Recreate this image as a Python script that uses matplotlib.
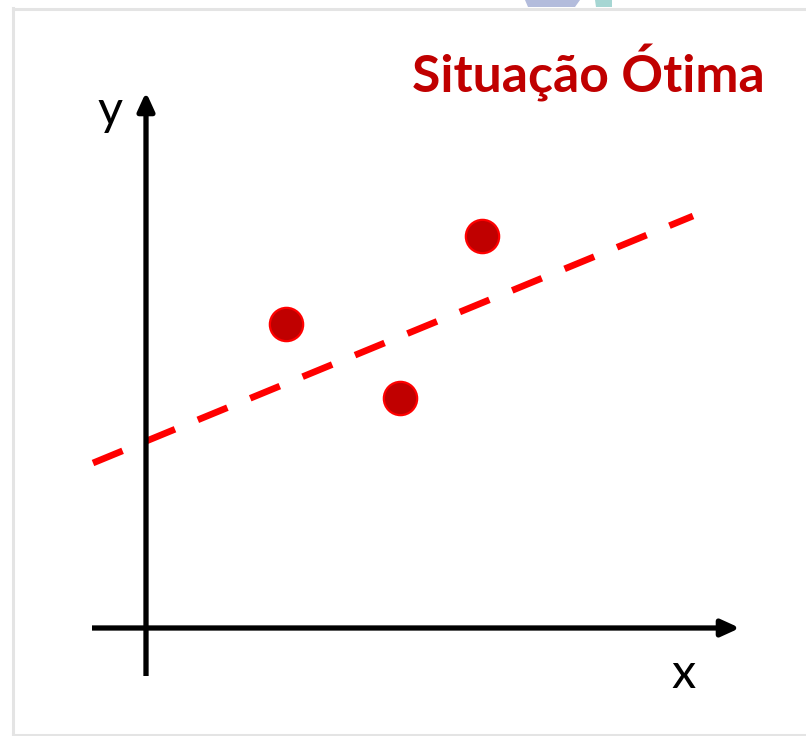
import matplotlib
matplotlib.use("Agg")
import matplotlib.pyplot as plt
from matplotlib.patches import Polygon
from matplotlib.lines import Line2D

# sample observations
pts_x = [1.40, 2.54, 3.36]
pts_y = [3.04, 2.30, 3.92]

# fitted line end points
fit_x = [-0.53, 5.47]
fit_y = [1.65, 4.12]

# extent of the drawn axes (arrow tips at the positive ends)
xaxis_span = [-0.54, 5.94]
yaxis_span = [-0.48, 5.36]

title = "Situação Ótima"
dark_red = "#C00000"
bright_red = "#FF0000"

W, H = 806, 736
fig = plt.figure(figsize=(W / 100, H / 100), dpi=100)
ax = fig.add_axes([0, 0, 1, 1])
ax.set_xlim(-1.46, 6.60)
ax.set_ylim(-1.08, 6.28)
ax.axis("off")

# axes with arrow heads
arrow = dict(arrowstyle="-|>,head_length=1.1,head_width=0.5",
             color="black", lw=3.8, shrinkA=0, shrinkB=0,
             capstyle="butt")
ax.annotate("", xy=(xaxis_span[1], 0), xytext=(xaxis_span[0], 0),
            arrowprops=arrow)
ax.annotate("", xy=(0, yaxis_span[1]), xytext=(0, yaxis_span[0]),
            arrowprops=arrow)

# dashed regression line
ax.plot(fit_x, fit_y, color=bright_red, lw=4.8, dashes=(4.8, 3.7),
        solid_capstyle="butt", dash_capstyle="butt")

# data points
ax.plot(pts_x, pts_y, "o", ms=24, mfc=dark_red, mec=bright_red, mew=1.6,
        zorder=5)

font = "Lato"
ax.text(-0.36, 5.03, "y", fontsize=35, family=font, ha="center",
        va="baseline")
ax.text(5.38, -0.60, "x", fontsize=35, family=font, ha="center",
        va="baseline")

fig.text(765 / W, 1 - 92 / H, title, fontsize=37.2, family=font,
         weight="bold", color=dark_red, ha="right", va="baseline")

# light frame around the slide
frame = "#E4E4E4"
fig.add_artist(Line2D([13 / W, 1], [1 - 8.5 / H, 1 - 8.5 / H],
                      color=frame, lw=2.2))
fig.add_artist(Line2D([13.5 / W, 13.5 / W], [1 - 8 / H, 1 - 734.5 / H],
                      color=frame, lw=2.2))
fig.add_artist(Line2D([13 / W, 1], [1 - 734.5 / H, 1 - 734.5 / H],
                      color=frame, lw=2.2))

# bits of a logo peeking in at the top edge
fig.add_artist(Polygon([(525 / W, 1), (580 / W, 1), (575 / W, 1 - 7 / H),
                        (528 / W, 1 - 7 / H)], closed=True, lw=0,
                       color="#B3BCDC", transform=fig.transFigure))
fig.add_artist(Polygon([(595 / W, 1), (612 / W, 1), (612 / W, 1 - 7 / H),
                        (596 / W, 1 - 7 / H)], closed=True, lw=0,
                       color="#A6D6D3", transform=fig.transFigure))

fig.savefig("out.png", dpi=100)
